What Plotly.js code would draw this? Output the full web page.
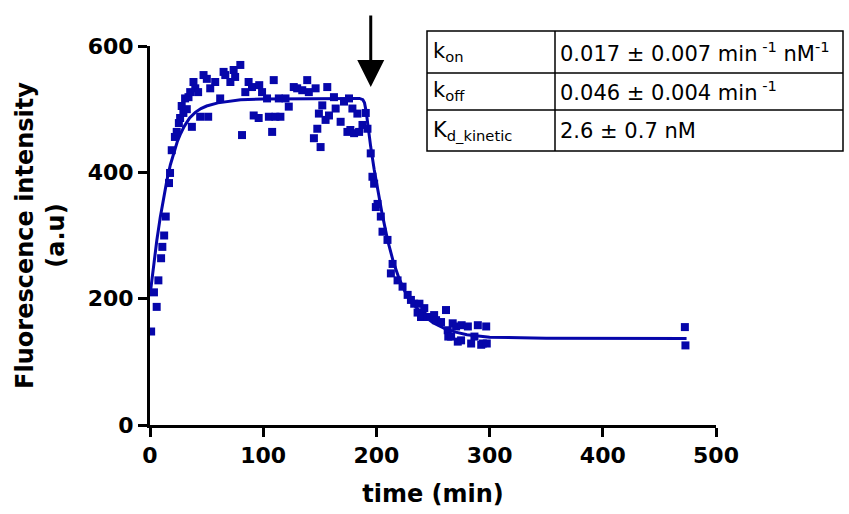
<!DOCTYPE html>
<html>
<head>
<meta charset="utf-8">
<script src="https://cdn.plot.ly/plotly-3.0.1.min.js"></script>
<style>html,body{margin:0;padding:0;background:#fff;}#chart{width:849px;height:514px;}</style>
</head>
<body>
<div id="chart"></div>
<script>
// Measured data points: time (min) and fluorescence (a.u.)
const timeMin = [1.0,3.5,5.9,7.4,9.8,10.9,12.5,13.9,16.8,17.7,19.2,22.0,23.6,25.5,26.6,28.0,29.5,31.0,32.5,34.0,35.5,37.0,38.4,40.0,42.5,44.3,47.3,50.2,51.4,53.2,57.6,62.0,65.0,66.5,71.0,73.9,75.2,79.8,81.3,84.2,87.1,90.1,91.6,96.0,96.5,99.0,103.4,105.0,107.9,109.3,110.8,113.8,115.2,119.7,122.6,127.0,130.0,134.5,138.9,140.3,144.8,146.3,147.8,149.2,150.7,152.2,155.1,156.6,158.1,162.5,164.0,168.4,171.4,174.4,175.8,177.0,178.8,180.3,183.2,184.7,187.7,190.6,192.1,195.0,196.5,198.0,199.5,201.0,203.9,205.4,209.8,212.8,214.3,218.7,223.1,227.6,230.5,233.4,236.4,238.0,239.4,240.8,242.3,245.3,248.2,251.0,252.7,257.1,261.5,263.0,263.5,266.0,267.4,270.4,271.9,274.8,275.3,280.8,283.7,286.6,289.6,292.6,294.0,297.0,297.5,472.5,473.0];
const fluor   = [148,210,187,229,264,282,300,330,383,399,435,456,464,478,486,505,494,517,500,519,527,472,543,533,527,488,554,548,488,533,543,517,559,554,543,562,551,570,459,527,543,535,490,486,538,527,517,488,464,546,488,517,488,517,504,535,533,530,546,527,454,533,469,493,440,506,483,535,490,519,501,480,512,464,517,467,501,462,493,464,475,494,469,430,393,382,345,350,330,306,293,240,255,229,219,206,198,192,178,192,171,174,185,171,171,174,166,163,182,150,140,140,161,156,132,134,158,156,129,140,158,127,129,156,129,155,126];

// Fitted curve values
const fitTime  = [0,3,6,9,12,15,18,21,24,27,30,35,40,45,50,60,70,80,100,150,185,188,189.5,191,193,195,198,201,205,210,215,220,225,230,240,250,260,270,280,290,300,350,400,474];
const fitFluor = [205,250,292,328,360,388,412,432,448,461,472,486,495,501,505,510,513,515,516,517,517,515,510,496,466,440,405,372,335,292,258,232,212,197,176,162,153,147,143,141,139,137.5,137,137];

// Table content
const paramNames  = ['k<sub>on</sub>', 'k<sub>off</sub>', 'K<sub>d_kinetic</sub>'];
const paramValues = ['0.017 \u00B1 0.007 min<sup> -1</sup> nM<sup>-1</sup>', '0.046 \u00B1 0.004 min<sup> -1</sup>', '2.6 \u00B1 0.7 nM'];

const xTicks = [0,100,200,300,400,500];
const yTicks = [0,200,400,600];
const xTitle = 'time (min)';
const yTitle = 'Fluorescence intensity<br>(a.u)';

const blue = '#0606aa';
const W = 849, H = 514, ML = 150, MR = 133, MT = 46, MB = 89;
const PW = W - ML - MR, PH = H - MT - MB;
const px = p => (p - ML) / PW;
const py = p => (H - MB - p) / PH;

// table geometry (pixels)
const tL = 427, tM = 555, tR = 843;
const rowEdges = [31, 73, 110, 151];

const shapes = [];
shapes.push({type:'rect', xref:'paper', yref:'paper', x0:px(tL), x1:px(tR), y0:py(rowEdges[3]), y1:py(rowEdges[0]), line:{color:'#000', width:1.5}, fillcolor:'rgba(255,255,255,1)', layer:'above'});
shapes.push({type:'line', xref:'paper', yref:'paper', x0:px(tM), x1:px(tM), y0:py(rowEdges[3]), y1:py(rowEdges[0]), line:{color:'#000', width:1.5}});
for (let i = 1; i < 3; i++) {
  shapes.push({type:'line', xref:'paper', yref:'paper', x0:px(tL), x1:px(tR), y0:py(rowEdges[i]), y1:py(rowEdges[i]), line:{color:'#000', width:1.5}});
}

const annotations = [];
for (let i = 0; i < 3; i++) {
  const yc = (rowEdges[i] + rowEdges[i+1]) / 2;
  annotations.push({xref:'paper', yref:'paper', x:px(tL+4), y:py(yc), xanchor:'left', yanchor:'middle', text:paramNames[i], showarrow:false, font:{family:'DejaVu Sans', size:21, color:'#000'}});
  annotations.push({xref:'paper', yref:'paper', x:px(tM+3), y:py(yc), xanchor:'left', yanchor:'middle', text:paramValues[i], showarrow:false, font:{family:'DejaVu Sans', size:21, color:'#000'}});
}
// arrow marking the start of dissociation
annotations.push({x:195, y:535, xref:'x', yref:'y', ax:0, ay:-73, text:'', showarrow:true, arrowhead:2, arrowsize:1.8, arrowwidth:3, arrowcolor:'#000', font:{size:12}});

const traces = [
  {x: fitTime, y: fitFluor, mode:'lines', line:{color:blue, width:3}, hoverinfo:'skip', showlegend:false, cliponaxis:false},
  {x: timeMin, y: fluor, mode:'markers', marker:{symbol:'square', size:8, color:blue}, showlegend:false, cliponaxis:false}
];

const layout = {
  width: W, height: H,
  margin: {l:ML, r:MR, t:MT, b:MB, pad:0},
  paper_bgcolor:'#fff', plot_bgcolor:'#fff',
  showlegend:false,
  font:{family:'DejaVu Sans', color:'#000', size:14},
  xaxis: {
    range:[0,500], tickvals:xTicks, ticktext:xTicks.map(String),
    showgrid:false, zeroline:false, showline:true, linecolor:'#000', linewidth:3,
    ticks:'outside', ticklen:9, tickwidth:3, tickcolor:'#000',
    tickfont:{family:'DejaVu Sans', size:22, color:'#000', weight:700},
    title:{text:xTitle, font:{family:'DejaVu Sans', size:24, color:'#000', weight:700}, standoff:18},
    automargin:false
  },
  yaxis: {
    range:[0,600], tickvals:yTicks, ticktext:yTicks.map(String),
    showgrid:false, zeroline:false, showline:true, linecolor:'#000', linewidth:3,
    ticks:'outside', ticklen:9, tickwidth:3, tickcolor:'#000',
    tickfont:{family:'DejaVu Sans', size:22, color:'#000', weight:700},
    title:{text:yTitle, font:{family:'DejaVu Sans', size:24, color:'#000', weight:700}, standoff:17},
    automargin:false
  },
  shapes: shapes,
  annotations: annotations
};

Plotly.newPlot('chart', traces, layout, {staticPlot:true, displayModeBar:false});
</script>
</body>
</html>
